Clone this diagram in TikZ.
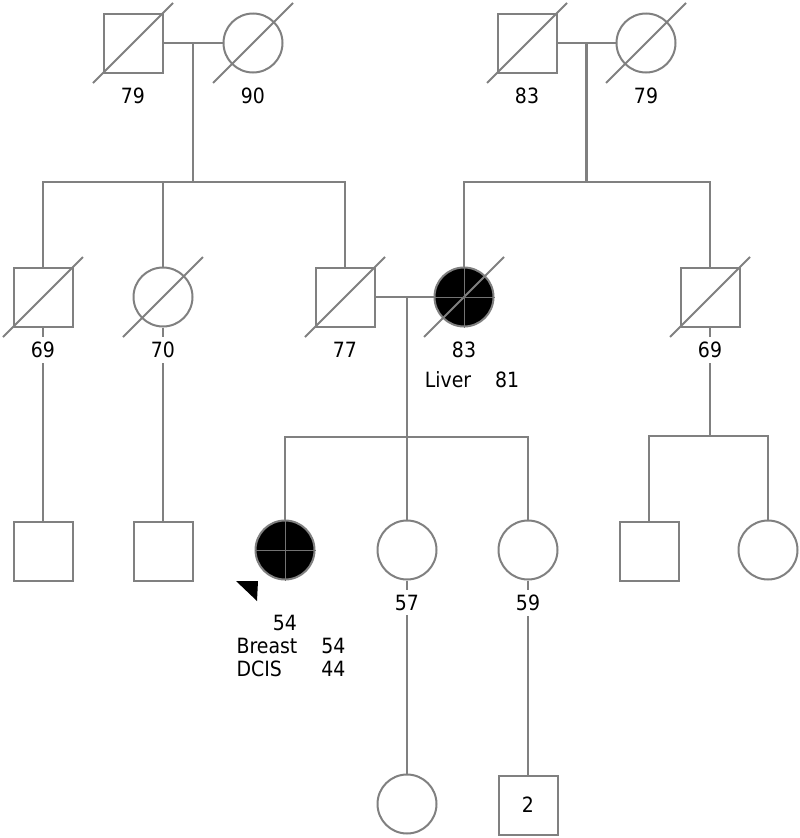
\documentclass[tikz,border=0pt]{standalone}
\usepackage{fontspec}
\setmainfont{DejaVu Sans Condensed}
\usetikzlibrary{positioning, backgrounds, calc}

\begin{document}
\begin{tikzpicture}[
    x=1pt, y=-1pt,
    font=\fontsize{21}{23}\selectfont,
    node distance=9pt,
    male/.style={
        rectangle, draw=black!50, line width=2pt, fill=white,
        minimum size=59pt, inner sep=0pt
    },
    female/.style={
        circle, draw=black!50, line width=2pt, fill=white,
        minimum size=59pt, inner sep=0pt
    },
    affected/.style={fill=black},
    age/.style={fill=white, inner sep=5pt},
    note/.style={inner sep=0pt},
    link/.style={draw=black!50, line width=2.2pt},
    slash/.style={draw=black!50, line width=2pt},
    quad/.style={draw=black!55, line width=0.8pt}
]
\useasboundingbox (0,0) rectangle (800,838);

% ---------------- Generation I ----------------
\node[male] (gfP) at (133,43) {};
\node[female] (gmP) at (253,43) {};
\node[male] (gfM) at (527,43) {};
\node[female] (gmM) at (646,43) {};

\node[age, below=of gfP] (a_gfP) {79};
\node[age, below=of gmP] (a_gmP) {90};
\node[age, below=of gfM] (a_gfM) {83};
\node[age, below=of gmM] (a_gmM) {79};

% ---------------- Generation II ----------------
\node[male] (uncleP) at (43,297) {};
\node[female] (auntP) at (163,297) {};
\node[male] (father) at (345,297) {};
\node[female, affected] (mother) at (464,297) {};
\node[male] (uncleM) at (710,297) {};

\node[age, below=of uncleP] (a_uncleP) {69};
\node[age, below=of auntP] (a_auntP) {70};
\node[age, below=of father] (a_father) {77};
\node[age, below=of mother] (a_mother) {83};
\node[age, below=of uncleM] (a_uncleM) {69};
\node[note, below=8pt of a_mother, xshift=8pt] (n_mother) {\begin{tabular}{@{}l@{\hspace{24pt}}r@{}}Liver & 81\end{tabular}};

% ---------------- Generation III ----------------
\node[male] (cousinA) at (43,551) {};
\node[male] (cousinB) at (163,551) {};
\node[female, affected] (proband) at (285,550) {};
\node[female] (sisA) at (407,550) {};
\node[female] (sisB) at (528,550) {};
\node[male] (cousinC) at (649,551) {};
\node[female] (cousinD) at (768,550) {};

\node[age, below=of proband, yshift=-20pt] (a_proband) {54};
\node[note, below=2pt of a_proband, xshift=6pt] (n_proband) {\begin{tabular}{@{}l@{\hspace{24pt}}r@{}}Breast & 54\\ DCIS & 44\end{tabular}};
\node[age, below=of sisA] (a_sisA) {57};
\node[age, below=of sisB] (a_sisB) {59};

% ---------------- Generation IV ----------------
\node[female] (niece) at (407,804) {};
\node[male] (nephews) at (528,805) {2};

% ---------------- Markers ----------------
\foreach \n in {gfP, gmP, gfM, gmM, uncleP, auntP, father, mother, uncleM}
    \draw[slash] (\n.center) ++(-40,40) -- ++(80,-80);
\foreach \n in {mother, proband}
    \draw[quad] (\n.north) -- (\n.south) (\n.west) -- (\n.east);
\fill (proband.center) ++(-49,31) -- ++(22,0) -- ++(-1,20) -- cycle;

% ---------------- Lines ----------------
\coordinate (mP) at ($(gfP)!0.5!(gmP)$);
\coordinate (mM) at ($(gfM)!0.5!(gmM)$);
\coordinate (mC) at ($(father)!0.52!(mother)$);
\coordinate (sP) at ($(mP)+(0,139)$);
\coordinate (sM) at ($(mM)+(0,139)$);
\coordinate (sC) at ($(mC)+(0,140)$);
\coordinate (sU) at ($(uncleM)+(0,139)$);

\begin{scope}[on background layer]
\draw[link] (gfP) -- (gmP);
\draw[link] (mP) -- (sP);
\draw[link] (sP) -| (uncleP);
\draw[link] (sP) -| (auntP);
\draw[link] (sP) -| (father);

\draw[link] (gfM) -- (gmM);
\draw[link] (mM) -- (sM);
\draw[link] (sM) -| (mother);
\draw[link] (sM) -| (uncleM);

\draw[link] (uncleP) -- (cousinA);
\draw[link] (auntP) -- (cousinB);

\draw[link] (father) -- (mother);
\draw[link] (mC) -- (sC);
\draw[link] (sC) -| (proband);
\draw[link] (sC) -| (sisA);
\draw[link] (sC) -| (sisB);

\draw[link] (uncleM) -- (sU);
\draw[link] (sU) -| (cousinC);
\draw[link] (sU) -| (cousinD);

\draw[link] (sisA) -- (niece);
\draw[link] (sisB) -- (nephews);
\end{scope}

\end{tikzpicture}
\end{document}
